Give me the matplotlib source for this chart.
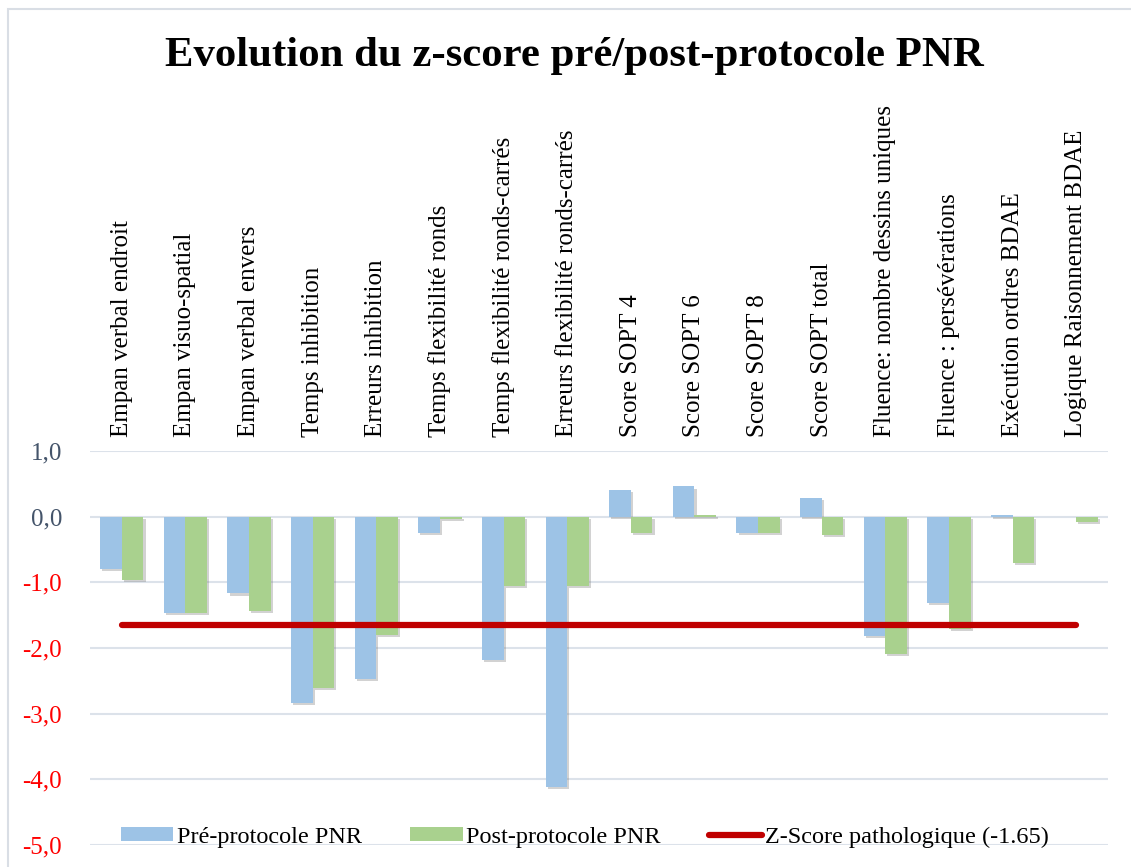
import numpy as np
import matplotlib
matplotlib.use("Agg")
import matplotlib.pyplot as plt
import matplotlib.patheffects as pe
from matplotlib.patches import Rectangle, Patch
from matplotlib.lines import Line2D

plt.rcParams["font.family"] = ["Liberation Serif", "DejaVu Serif"]

categories = [
    "Empan verbal endroit", "Empan visuo-spatial", "Empan verbal envers",
    "Temps inhibition", "Erreurs inhibition", "Temps flexibilité ronds",
    "Temps flexibilité ronds-carrés", "Erreurs flexibilité ronds-carrés",
    "Score SOPT 4", "Score SOPT 6", "Score SOPT 8", "Score SOPT total",
    "Fluence: nombre dessins uniques", "Fluence : persévérations",
    "Exécution ordres BDAE", "Logique Raisonnement BDAE",
]
pre_pnr = [-0.80, -1.46, -1.17, -2.84, -2.47, -0.25, -2.18, -4.12,
           0.41, 0.46, -0.25, 0.28, -1.81, -1.31, 0.03, 0.0]
post_pnr = [-0.96, -1.46, -1.43, -2.61, -1.80, -0.03, -1.05, -1.05,
            -0.25, 0.03, -0.25, -0.28, -2.09, -1.71, -0.71, -0.08]
seuil = -1.65
yticks = [1, 0, -1, -2, -3, -4, -5]

BLUE = "#9DC3E6"
GREEN = "#A9D18E"
RED = "#C00000"
GRID = "#DCE2EA"

fig = plt.figure(figsize=(11.31, 8.67), dpi=100)
ax = fig.add_axes([90 / 1131, 1 - 845 / 867, (1108 - 90) / 1131, (845 - 451) / 867])

# chart-area border, Excel style
fig.patches.append(Rectangle((8 / 1131, -0.05), 1.1, 1 - 9 / 867 + 0.05,
                             transform=fig.transFigure, fill=False,
                             edgecolor="#D9DEE5", linewidth=1.5))

x = np.arange(len(categories))
w = 0.34
shadow = [pe.SimplePatchShadow(offset=(1.5, -1.5), shadow_rgbFace="#7F7F7F", alpha=0.35),
          pe.Normal()]
ax.bar(x - w / 2, pre_pnr, w, color=BLUE, zorder=3, path_effects=shadow)
ax.bar(x + w / 2, post_pnr, w, color=GREEN, zorder=3, path_effects=shadow)
ax.plot([x[0], x[-1]], [seuil, seuil], color=RED, linewidth=4.5,
        solid_capstyle="round", zorder=4)

ax.set_xlim(-0.5, len(categories) - 0.5)
ax.set_ylim(-5, 1)
ax.set_yticks(yticks)
ax.set_yticklabels([f"{v:.1f}".replace(".", ",") for v in yticks])
for lab, v in zip(ax.get_yticklabels(), yticks):
    lab.set_color("#44546A" if v >= 0 else "#FF0000")
ax.tick_params(axis="y", length=0, pad=20, labelsize=18)
ax.yaxis.grid(True, color=GRID, linewidth=1.5, zorder=0)
ax.set_axisbelow(True)

ax.xaxis.tick_top()
ax.set_xticks(x)
ax.set_xticklabels(categories, rotation=90, fontsize=18)
ax.tick_params(axis="x", length=0, pad=10)

for s in ax.spines.values():
    s.set_visible(False)

fig.text(574 / 1131, 1 - 56 / 867, "Evolution du z-score pré/post-protocole PNR",
         ha="center", va="center", fontsize=30.8, fontweight="bold")

handles = [Patch(facecolor=BLUE), Patch(facecolor=GREEN),
           Line2D([0], [0], color=RED, linewidth=4.5, solid_capstyle="round")]
names = ["Pré-protocole PNR", "Post-protocole PNR", "Z-Score pathologique (-1.65)"]
fig.legend(handles, names, loc="center", bbox_to_anchor=(585 / 1131, 1 - 837 / 867),
           ncol=3, frameon=False, fontsize=17.5, handlelength=2.15, handleheight=0.5,
           handletextpad=0.15, columnspacing=2.0, borderpad=0)

fig.savefig("out.png", dpi=100)
